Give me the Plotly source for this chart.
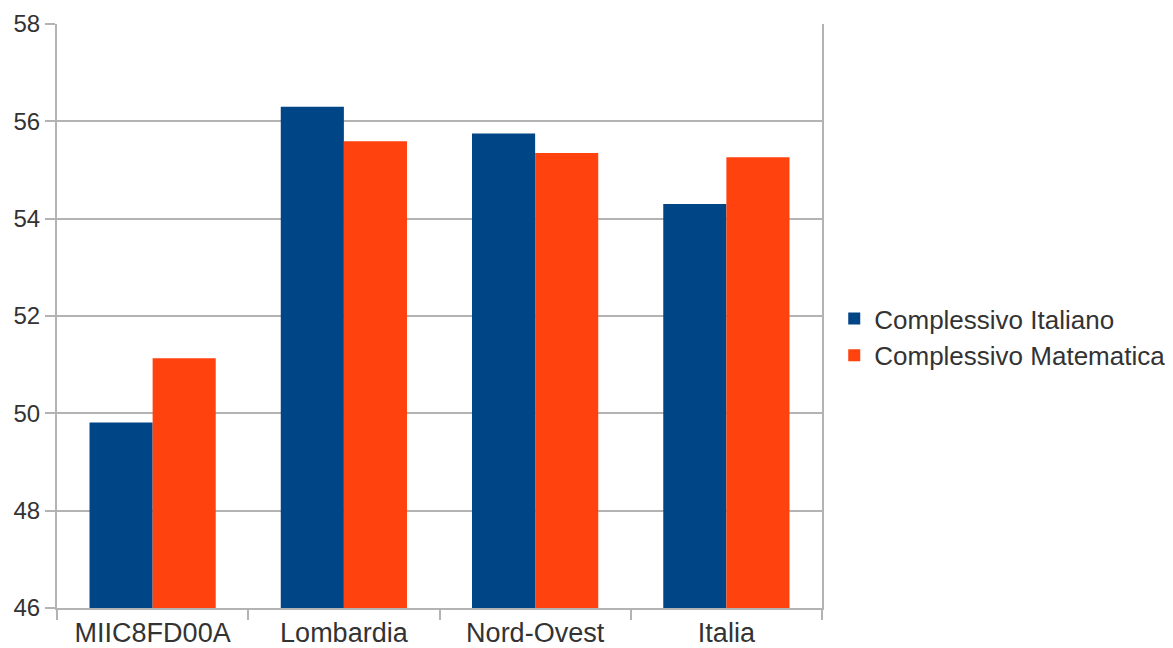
import plotly.graph_objects as go

categories = ["MIIC8FD00A", "Lombardia", "Nord-Ovest", "Italia"]
italiano = [49.81, 56.30, 55.75, 54.30]
matematica = [51.13, 55.59, 55.35, 55.26]
series_names = ["Complessivo Italiano", "Complessivo Matematica"]
y_ticks = [46, 48, 50, 52, 54, 56, 58]

fig = go.Figure()
fig.add_trace(go.Bar(x=categories, y=italiano, name=series_names[0],
                     marker=dict(color="#004586", line=dict(width=0))))
fig.add_trace(go.Bar(x=categories, y=matematica, name=series_names[1],
                     marker=dict(color="#ff420e", line=dict(width=0))))

fig.update_layout(
    width=1165, height=640,
    margin=dict(l=49, r=351, t=16, b=40, autoexpand=False),
    paper_bgcolor="white", plot_bgcolor="white",
    barmode="group", bargap=0.34, bargroupgap=0,
    font=dict(family="Liberation Sans, Arial, sans-serif", size=25, color="#333333"),
    legend=dict(x=1.016, y=0.464, xanchor="left", yanchor="middle",
                bgcolor="rgba(0,0,0,0)",
                font=dict(size=26, color="#333333"), itemwidth=30,
                tracegroupgap=0, traceorder="normal"),
    showlegend=True,
)
fig.update_yaxes(range=[46, 58], tickvals=y_ticks, showgrid=True, automargin=False,
                 gridcolor="#b3b3b3", gridwidth=2, showline=True, linecolor="#b3b3b3",
                 linewidth=2, mirror=True, ticks="outside", ticklen=10,
                 tickcolor="#b3b3b3", tickwidth=2, zeroline=False,
                 tickfont=dict(size=24))
fig.update_xaxes(showline=True, linecolor="#b3b3b3", linewidth=2, automargin=False,
                 ticks="outside", tickson="boundaries", ticklen=10,
                 tickcolor="#b3b3b3", tickwidth=2, showgrid=False,
                 tickfont=dict(size=27))

fig.write_html("out.html")
